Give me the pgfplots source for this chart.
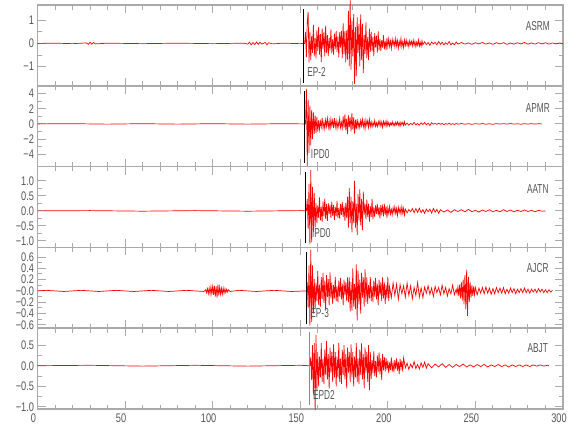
\documentclass[border=0pt]{standalone}
\usepackage{pgfplots}
\pgfplotsset{compat=1.18}
\usepackage{fontspec}
\setmainfont{Liberation Sans}
\newfontfamily\tickfam{Liberation Sans}[FakeStretch=0.74]
\newfontfamily\labfam{Liberation Sans}[FakeStretch=0.64]
\newcommand\tickfont{\tickfam\fontsize{12.5}{13}\selectfont}
\newcommand\labfont{\labfam\fontsize{13}{14}\selectfont}
\definecolor{axgray}{RGB}{170,170,170}
\definecolor{lblgray}{RGB}{85,85,85}
\definecolor{seisred}{RGB}{255,0,0}
\pgfplotsset{
  seis/.style={
    width=525.5bp, height=80.8bp, scale only axis,
    xmin=0, xmax=300,
    xtick={0,50,100,150,200,250,300}, minor x tick num=4,
    tick align=inside, xtick pos=both, ytick pos=both,
    axis line style={draw=axgray, line width=1.6bp},
    tick style={draw=axgray, line width=1bp},
    major tick length=8bp, minor tick length=4.5bp,
    minor y tick num=1,
    clip=false,
    xticklabels={},
    tick label style={font=\tickfont, text=lblgray},
  },
  trace/.style={seisred, line width=0.7bp, mark=none},
  pick/.style={black, line width=0.8bp, mark=none},
}
\begin{document}
\begin{tikzpicture}
\useasboundingbox (-37.5bp,5bp) rectangle (542.5bp,-435bp);
% ---------------- Panel 1 ASRM
\begin{axis}[seis, at={(0bp,0bp)}, anchor=north west,
  ymin=-1.82, ymax=1.65, ytick={-1,0,1}, yticklabels={−1,0,1}]
\addplot[trace] coordinates {
(0,0) (10,0.01) (20,-0.01) (28,0.02) (29,-0.04) (30,0.05) (31,-0.03) (32,0.04) (33,-0.02) (40,0.01) (60,-0.01) (80,0.01) (100,-0.01) (118,0.01) (120,-0.03) (121,0.05) (122,-0.06) (123,0.04) (124,-0.05) (125,0.06) (126,-0.04) (127,0.05) (128,-0.03) (130,0.04) (131,-0.05) (132,0.03) (134,-0.02) (140,0.01) (150,-0.01) (152,0)
(152.5,0) (153,0.5) (153.5,-0.6) (154,0.9) (154.5,1.35) (155,-0.81)
(155.5,0.48) (156,-0.72) (156.5,0.32) (157,-0.40) (157.5,0.80) (158,-0.56) (158.5,0.24) (159,-0.64) (159.5,0.56) (160,-0.32) (160.5,0.72) (161,-0.48) (161.5,0.40) (162,-0.80) (162.5,0.64) (163,-0.24) (163.5,0.48) (164,-0.56) (164.5,0.76) (165,-0.40)
(165.5,0.36) (166,-0.54) (166.5,0.24) (167,-0.30) (167.5,0.60) (168,-0.42) (168.5,0.18) (169,-0.48) (169.5,0.42) (170,-0.24) (170.5,0.54) (171,-0.36) (171.5,0.30) (172,-0.60) (172.5,0.48) (173,-0.18)
(173.5,0.54) (174,-0.63) (174.5,0.86) (175,-0.45) (175.5,0.54) (176,-0.81)
(176.5,0.56) (177,-0.70) (177.5,1.40) (178,-0.98) (178.5,1.85) (179,-1.12) (179.5,0.98) (180,-0.56) (180.5,1.26) (181,-1.74) (181.5,0.70) (182,-1.40) (182.5,1.12) (183,-0.42) (183.5,0.84) (184,-0.98) (184.5,1.25) (185,-0.70) (185.5,0.84) (186,-1.26)
(186.5,0.36) (187,-0.45) (187.5,0.90) (188,-0.63) (188.5,0.27) (189,-0.72) (189.5,0.63) (190,-0.36)
(190.5,0.50) (191,-0.33) (191.5,0.28) (192,-0.55) (192.5,0.44) (193,-0.17) (193.5,0.33) (194,-0.39) (194.5,0.52) (195,-0.28)
(195.5,0.21) (196,-0.32) (196.5,0.14) (197,-0.18) (197.5,0.35) (198,-0.25) (198.5,0.11) (199,-0.28) (199.5,0.25) (200,-0.14)
(200.5,0.20) (201,-0.13) (201.5,0.11) (202,-0.22) (202.5,0.18) (203,-0.07) (203.5,0.13) (204,-0.15) (204.5,0.21) (205,-0.11) (205.5,0.13) (206,-0.20) (206.5,0.09) (207,-0.11) (207.5,0.22) (208,-0.15) (208.5,0.07) (209,-0.18) (209.5,0.15) (210,-0.09)
(210.5,0.14) (211,-0.09) (211.5,0.08) (212,-0.15) (212.5,0.12) (213,-0.05) (213.5,0.09) (214,-0.11) (214.5,0.14) (215,-0.08) (215.5,0.09) (216,-0.14) (216.5,0.06) (217,-0.08) (217.5,0.15) (218,-0.11) (218.5,0.05) (219,-0.12) (219.5,0.11) (220,-0.06)
(221,0.07) (222,-0.05) (223,0.04) (224,-0.08) (225,0.06) (226,-0.02) (227,0.05) (228,-0.06) (229,0.08) (230,-0.04) (231,0.05) (232,-0.07) (233,0.03) (234,-0.04) (235,0.08) (236,-0.06) (237,0.02) (238,-0.06) (239,0.06) (240,-0.03)
(242,0.04) (244,-0.03) (246,0.02) (248,-0.04) (250,0.03) (252,-0.02) (254,0.04) (256,-0.03) (258,0.02) (260,-0.04) (262,0.03) (264,-0.02) (266,0.03) (268,-0.04) (270,0.02) (272,-0.03) (274,0.03) (276,-0.02) (278,0.04) (280,-0.03) (282,0.02) (284,-0.03) (286,0.03) (288,-0.02) (290,0.03) (292,-0.03) (294,0.02) (296,-0.02) (298,0.02) (300,-0.01)
};
\addplot[pick] coordinates {(151.9,-1.70) (151.9,1.48)};
\node[font=\labfont, text=lblgray] at (rel axis cs:0.952,0.74) {ASRM};
\node[font=\labfont, text=lblgray, anchor=west, inner sep=0pt] at (rel axis cs:0.513,0.166) {EP-2};
\end{axis}
% ---------------- Panel 2 APMR
\begin{axis}[seis, at={(0bp,-80.8bp)}, anchor=north west,
  ymin=-5.6, ymax=5.0, ytick={-4,-2,0,2,4}, yticklabels={−4,−2,0,2,4}]
\addplot[trace] coordinates {
(0,0) (20,0.03) (40,-0.03) (60,0.03) (80,-0.03) (100,0.03) (120,-0.03) (140,0.03) (152.5,0)
(153,0) (153.5,4.6) (154,-5.5) (154.5,3.2) (155,-3.8) (155.5,2.4) (156,-2.8) (156.5,1.8) (157,-2.0) (157.5,1.5) (158,-1.3) (158.5,1.1) (159,-1.2) (159.5,0.9) (160,-1.0)
(160.5,0.48) (161,-0.72) (161.5,0.32) (162,-0.40) (162.5,0.80) (163,-0.56) (163.5,0.24) (164,-0.64) (164.5,0.56) (165,-0.32) (165.5,0.72) (166,-0.48) (166.5,0.40) (167,-0.80) (167.5,0.64) (168,-0.24) (168.5,0.48) (169,-0.56) (169.5,0.76) (170,-0.40)
(170.5,0.42) (171,-0.63) (171.5,0.28) (172,-0.35) (172.5,0.70) (173,-0.49) (173.5,0.21) (174,-0.56)
(174.5,0.98) (175,-0.56) (175.5,1.26) (176,-0.84) (176.5,0.70) (177,-1.35) (177.5,1.12) (178,-0.42) (178.5,0.84) (179,-0.98) (179.5,1.45) (180,-0.70) (180.5,0.84) (181,-1.26) (181.5,0.56) (182,-0.70)
(182.5,0.65) (183,-0.46) (183.5,0.20) (184,-0.52) (184.5,0.46) (185,-0.26) (185.5,0.59) (186,-0.39) (186.5,0.33) (187,-0.65) (187.5,0.52) (188,-0.20) (188.5,0.39) (189,-0.46) (189.5,0.62) (190,-0.33)
(190.5,0.27) (191,-0.41) (191.5,0.18) (192,-0.23) (192.5,0.45) (193,-0.32) (193.5,0.14) (194,-0.36) (194.5,0.32) (195,-0.18) (195.5,0.41) (196,-0.27) (196.5,0.23) (197,-0.45) (197.5,0.36) (198,-0.14) (198.5,0.27) (199,-0.32) (199.5,0.43) (200,-0.23)
(200.5,0.18) (201,-0.27) (201.5,0.12) (202,-0.15) (202.5,0.30) (203,-0.21) (203.5,0.09) (204,-0.24) (204.5,0.21) (205,-0.12) (205.5,0.27) (206,-0.18) (206.5,0.15) (207,-0.30) (207.5,0.24) (208,-0.09) (208.5,0.18) (209,-0.21) (209.5,0.29) (210,-0.15)
(211,0.12) (212,-0.18) (213,0.08) (214,-0.10) (215,0.20) (216,-0.14) (217,0.06) (218,-0.16) (219,0.14) (220,-0.08) (221,0.18) (222,-0.12) (223,0.10) (224,-0.20) (225,0.16)
(226,-0.03) (227,0.06) (228,-0.07) (229,0.10) (230,-0.05) (231,0.06) (232,-0.09) (233,0.04) (234,-0.05) (235,0.10) (236,-0.07) (237,0.03) (238,-0.08) (239,0.07) (240,-0.04)
(242,0.05) (244,-0.04) (246,0.03) (248,-0.06) (250,0.04) (252,-0.03) (254,0.05) (256,-0.04) (258,0.02) (260,-0.05) (262,0.04) (264,-0.02) (266,0.04) (268,-0.03) (270,0.05) (272,-0.03) (274,0.02) (276,-0.04) (278,0.03) (280,-0.02) (282,0.03) (284,-0.02) (286,0.02) (288,0)
};
\addplot[pick] coordinates {(152.5,-5.13) (152.5,4.34)};
\node[font=\labfont, text=lblgray] at (rel axis cs:0.952,0.725) {APMR};
\node[font=\labfont, text=lblgray, anchor=west, inner sep=0pt] at (rel axis cs:0.52,0.16) {IPD0};
\end{axis}
% ---------------- Panel 3 AATN
\begin{axis}[seis, at={(0bp,-161.6bp)}, anchor=north west,
  ymin=-1.22, ymax=1.48, ytick={-1,-0.5,0,0.5,1}, yticklabels={−1.0,−0.5,0.0,0.5,1.0}]
\addplot[trace] coordinates {
(0,0) (30,0.01) (60,-0.01) (90,0.01) (120,-0.01) (150,0.01) (153.5,0)
(154,0.4) (154.5,-0.6) (155,0.9) (155.5,-1.12) (156,1.36) (156.5,-1.05) (157,0.8) (157.5,-0.7) (158,0.6) (158.5,-0.55)
(159,0.27) (159.5,-0.41) (160,0.18) (160.5,-0.23) (161,0.45) (161.5,-0.32) (162,0.14) (162.5,-0.36) (163,0.32) (163.5,-0.18) (164,0.41) (164.5,-0.27) (165,0.23)
(165.5,-0.33) (166,0.26) (166.5,-0.10) (167,0.20) (167.5,-0.23) (168,0.31) (168.5,-0.17) (169,0.20) (169.5,-0.30) (170,0.13) (170.5,-0.17) (171,0.33) (171.5,-0.23) (172,0.10) (172.5,-0.26) (173,0.23) (173.5,-0.13) (174,0.30) (174.5,-0.20) (175,0.17) (175.5,-0.33) (176,0.26)
(176.5,-0.24) (177,0.48) (177.5,-0.56) (178,0.76) (178.5,-0.40) (179,0.48) (179.5,-0.72) (180,0.32) (180.5,-0.40) (181,1.00) (181.5,-0.56) (182,0.24) (182.5,-0.80) (183,0.56) (183.5,-0.32) (184,0.72) (184.5,-0.48) (185,0.40) (185.5,-0.64) (186,0.64)
(186.5,-0.12) (187,0.24) (187.5,-0.28) (188,0.38) (188.5,-0.20) (189,0.24) (189.5,-0.36) (190,0.16) (190.5,-0.20) (191,0.40) (191.5,-0.28) (192,0.12)
(192.5,-0.20) (193,0.18) (193.5,-0.10) (194,0.23) (194.5,-0.15) (195,0.13) (195.5,-0.25) (196,0.20) (196.5,-0.08) (197,0.15) (197.5,-0.18) (198,0.24) (198.5,-0.13) (199,0.15) (199.5,-0.23) (200,0.10)
(200.5,-0.08) (201,0.15) (201.5,-0.11) (202,0.05) (202.5,-0.12) (203,0.11) (203.5,-0.06) (204,0.14) (204.5,-0.09) (205,0.08) (205.5,-0.15) (206,0.12) (206.5,-0.05) (207,0.09) (207.5,-0.11) (208,0.14) (208.5,-0.08) (209,0.09) (209.5,-0.14) (210,0.06)
(211,-0.07) (212,0.05) (213,-0.03) (214,0.08) (215,-0.06) (216,0.08) (217,-0.05) (218,0.09) (219,-0.06) (220,0.04) (221,-0.08) (222,0.06) (223,-0.03) (224,0.06) (225,-0.07) (226,0.08) (227,-0.04) (228,0.05) (229,-0.08) (230,0.04)
(232,-0.04) (234,0.03) (236,-0.05) (238,0.04) (240,-0.02) (242,0.04) (244,-0.03) (246,0.05) (248,-0.03) (250,0.02) (252,-0.04) (254,0.03) (256,-0.02) (258,0.04) (260,-0.03) (262,0.02) (264,-0.03) (266,0.04) (268,-0.02) (270,0.03) (272,-0.03) (274,0.02) (276,-0.02) (278,0.03) (280,-0.02) (282,0.02) (284,-0.03) (286,0.02) (288,-0.01) (290,0)
};
\addplot[pick] coordinates {(153.2,-1.08) (153.2,1.29)};
\node[font=\labfont, text=lblgray] at (rel axis cs:0.952,0.72) {AATN};
\node[font=\labfont, text=lblgray, anchor=west, inner sep=0pt] at (rel axis cs:0.522,0.18) {IPD0};
\end{axis}
% ---------------- Panel 4 AJCR
\begin{axis}[seis, at={(0bp,-242.4bp)}, anchor=north west,
  ymin=-0.66, ymax=0.77, ytick={-0.6,-0.4,-0.2,0,0.2,0.4,0.6}, yticklabels={−0.6,−0.4,−0.2,−0.0,0.2,0.4,0.6}]
\addplot[trace] coordinates {
(0,0) (5,0.01) (15,-0.01) (25,0.01) (35,-0.01) (45,0.01) (55,-0.01) (65,0.01) (75,-0.01) (85,0.01) (95,-0.01)
(96,0.02) (96.5,-0.03) (97,0.04) (97.5,-0.05) (98,0.05) (98.5,-0.06) (99,0.07) (99.5,-0.05) (100,0.08) (100.5,-0.07) (101,0.09) (101.5,-0.10) (102,0.08) (102.5,-0.12) (103,0.11) (103.5,-0.08) (104,0.07) (104.5,-0.06) (105,0.05) (105.5,-0.06) (106,0.05) (106.5,-0.04) (107,0.04) (107.5,-0.03) (108,0.03) (108.5,-0.02) (109,0.02) (110,-0.01)
(115,0.01) (125,-0.01) (135,0.01) (145,-0.01) (153.5,0)
(154,0.15) (154.5,-0.3) (155,0.45) (155.5,-0.62) (156,0.73) (156.5,-0.55) (157,0.45) (157.5,-0.40)
(158,0.21) (158.5,-0.32) (159,0.14) (159.5,-0.18) (160,0.35) (160.5,-0.25) (161,0.11) (161.5,-0.28) (162,0.25) (162.5,-0.14) (163,0.32) (163.5,-0.21) (164,0.18) (164.5,-0.35) (165,0.28) (165.5,-0.11) (166,0.21) (166.5,-0.25) (167,0.33)
(167.5,-0.13) (168,0.15) (168.5,-0.23) (169,0.10) (169.5,-0.13) (170,0.25) (170.5,-0.18) (171,0.08) (171.5,-0.20) (172,0.18) (172.5,-0.10) (173,0.23) (173.5,-0.15) (174,0.13) (174.5,-0.25) (175,0.20) (175.5,-0.08) (176,0.15) (176.5,-0.18) (177,0.24)
(177.5,-0.20) (178,0.24) (178.5,-0.36) (179,0.16) (179.5,-0.35) (180,0.40) (180.5,-0.28) (181,0.12) (181.5,-0.32) (182,0.47) (182.5,-0.52) (183,0.36) (183.5,-0.24) (184,0.20) (184.5,-0.40) (185,0.32) (185.5,-0.12) (186,0.24) (186.5,-0.28) (187,0.38) (187.5,-0.20) (188,0.24)
(188.5,-0.23) (189,0.10) (189.5,-0.13) (190,0.25) (190.5,-0.18) (191,0.08) (191.5,-0.20) (192,0.18) (192.5,-0.10) (193,0.23) (193.5,-0.15) (194,0.13) (194.5,-0.25) (195,0.20) (195.5,-0.08) (196,0.15) (196.5,-0.18) (197,0.24) (197.5,-0.13) (198,0.15) (198.5,-0.23) (199,0.10) (199.5,-0.13) (200,0.25) (200.5,-0.18) (201,0.08)
(202,-0.12) (203,0.14) (204,-0.08) (205,0.12) (206,-0.15) (207,0.11) (208,-0.05) (209,0.09) (210,-0.11) (211,0.14) (212,-0.08) (213,0.09) (214,-0.14) (215,0.06) (216,-0.08) (217,0.15) (218,-0.11) (219,0.05) (220,-0.12)
(221,0.07) (222,-0.04) (223,0.09) (224,-0.06) (225,0.05) (226,-0.10) (227,0.08) (228,-0.03) (229,0.06) (230,-0.07) (231,0.10) (232,-0.05) (233,0.06) (234,-0.09) (235,0.04) (236,-0.05) (237,0.10) (238,-0.07) (239,0.03)
(239.5,-0.05) (240,0.07) (240.5,-0.09) (241,0.11) (241.5,-0.13) (242,0.15) (242.5,-0.17) (243,0.20) (243.5,-0.24) (244,0.28) (244.5,-0.32) (245,0.37) (245.5,-0.44) (246,0.25) (246.5,-0.20) (247,0.15) (247.5,-0.12) (248,0.10) (248.5,-0.09) (249,0.08) (249.5,-0.07) (250,0.06)
(251,-0.07) (252,0.05) (253,-0.04) (254,0.06) (255,-0.05) (256,0.07) (257,-0.04) (258,0.05) (259,-0.06) (260,0.04) (261,-0.05) (262,0.06) (263,-0.03) (264,0.05) (265,-0.04) (266,0.06) (267,-0.05) (268,0.03) (269,-0.04) (270,0.05) (271,-0.03) (272,0.04) (273,-0.05) (274,0.03) (275,-0.03) (276,0.04) (277,-0.03) (278,0.05) (279,-0.03) (280,0.03) (281,-0.04) (282,0.03) (283,-0.02) (284,0.03) (285,-0.03) (286,0.04) (287,-0.02) (288,0.03) (289,-0.03) (290,0.02) (291,-0.03) (292,0.02) (293,-0.02) (294,0.01)
};
\addplot[pick] coordinates {(153.6,-0.59) (153.6,0.69)};
\node[font=\labfont, text=lblgray] at (rel axis cs:0.952,0.75) {AJCR};
\node[font=\labfont, text=lblgray, anchor=west, inner sep=0pt] at (rel axis cs:0.519,0.19) {EP-3};
\end{axis}
% ---------------- Panel 5 ABJT
\begin{axis}[seis, at={(0bp,-323.2bp)}, anchor=north west,
  ymin=-1.05, ymax=0.91, ytick={-1,-0.5,0,0.5}, yticklabels={−1.0,−0.5,0.0,0.5},
  xticklabels={0,50,100,150,200,250,300}, xticklabel style={xshift=-4bp, yshift=-1bp}]
\addplot[trace] coordinates {
(0,0) (30,0.01) (60,-0.01) (90,0.01) (120,-0.01) (150,0.01) (155.5,0)
(156,0.2) (156.5,-0.35) (157,0.5) (157.5,-0.7) (158,0.55) (158.5,-1.08) (159,0.74) (159.5,-0.6)
(160,0.33) (160.5,-0.50) (161,0.22) (161.5,-0.28) (162,0.55) (162.5,-0.39) (163,0.17) (163.5,-0.44) (164,0.39) (164.5,-0.22) (165,0.60) (165.5,-0.33) (166,0.28) (166.5,-0.55) (167,0.44) (167.5,-0.17) (168,0.33) (168.5,-0.39) (169,0.52) (169.5,-0.28)
(170,0.33) (170.5,-0.50) (171,0.22) (171.5,-0.28) (172,0.55) (172.5,-0.39) (173,0.17) (173.5,-0.44) (174,0.39) (174.5,-0.22) (175,0.50) (175.5,-0.33) (176,0.28) (176.5,-0.55) (177,0.44) (177.5,-0.17) (178,0.33) (178.5,-0.39) (179,0.52) (179.5,-0.28)
(180,0.33) (180.5,-0.50) (181,0.22) (181.5,-0.28) (182,0.55) (182.5,-0.39) (183,0.17) (183.5,-0.44) (184,0.39) (184.5,-0.22) (185,0.54) (185.5,-0.33) (186,0.28) (186.5,-0.55) (187,0.44) (187.5,-0.17) (188,0.33) (188.5,-0.39) (189,0.50) (189.5,-0.59) (190,0.33)
(190.5,-0.32) (191,0.14) (191.5,-0.18) (192,0.35) (192.5,-0.25) (193,0.11) (193.5,-0.28) (194,0.25) (194.5,-0.14) (195,0.32) (195.5,-0.21) (196,0.18) (196.5,-0.35) (197,0.28) (197.5,-0.11) (198,0.21)
(198.5,-0.14) (199,0.19) (199.5,-0.10) (200,0.12) (200.5,-0.18) (201,0.08) (201.5,-0.10) (202,0.20) (202.5,-0.14) (203,0.06) (203.5,-0.16) (204,0.14) (204.5,-0.08) (205,0.18) (205.5,-0.12) (206,0.10) (206.5,-0.20) (207,0.16) (207.5,-0.06) (208,0.12) (208.5,-0.14) (209,0.19)
(210,-0.05) (211,0.06) (212,-0.09) (213,0.04) (214,-0.05) (215,0.10) (216,-0.07) (217,0.03) (218,-0.08) (219,0.07) (220,-0.04) (221,0.09) (222,-0.06) (223,0.05)
(225,-0.05) (227,0.04) (229,-0.03) (231,0.05) (233,-0.04) (235,0.03) (237,-0.04) (239,0.03) (241,-0.02) (243,0.04) (245,-0.03) (247,0.02) (249,-0.03) (251,0.03) (253,-0.02) (255,0.03) (257,-0.03) (259,0.02) (261,-0.02) (263,0.03) (265,-0.02) (267,0.02) (269,-0.03) (271,0.02) (273,-0.02) (275,0.02) (277,-0.02) (279,0.02) (281,-0.02) (283,0.02) (285,-0.01) (287,0.02) (289,-0.01) (291,0.01) (292,0)
};
\addplot[pick, draw=black!45, line width=1.2bp] coordinates {(155.1,-0.96) (155.1,0.81)};
\node[font=\labfont, text=lblgray] at (rel axis cs:0.952,0.75) {ABJT};
\node[font=\labfont, text=lblgray, anchor=west, inner sep=0pt] at (rel axis cs:0.524,0.175) {EPD2};
\end{axis}
\end{tikzpicture}
\end{document}
